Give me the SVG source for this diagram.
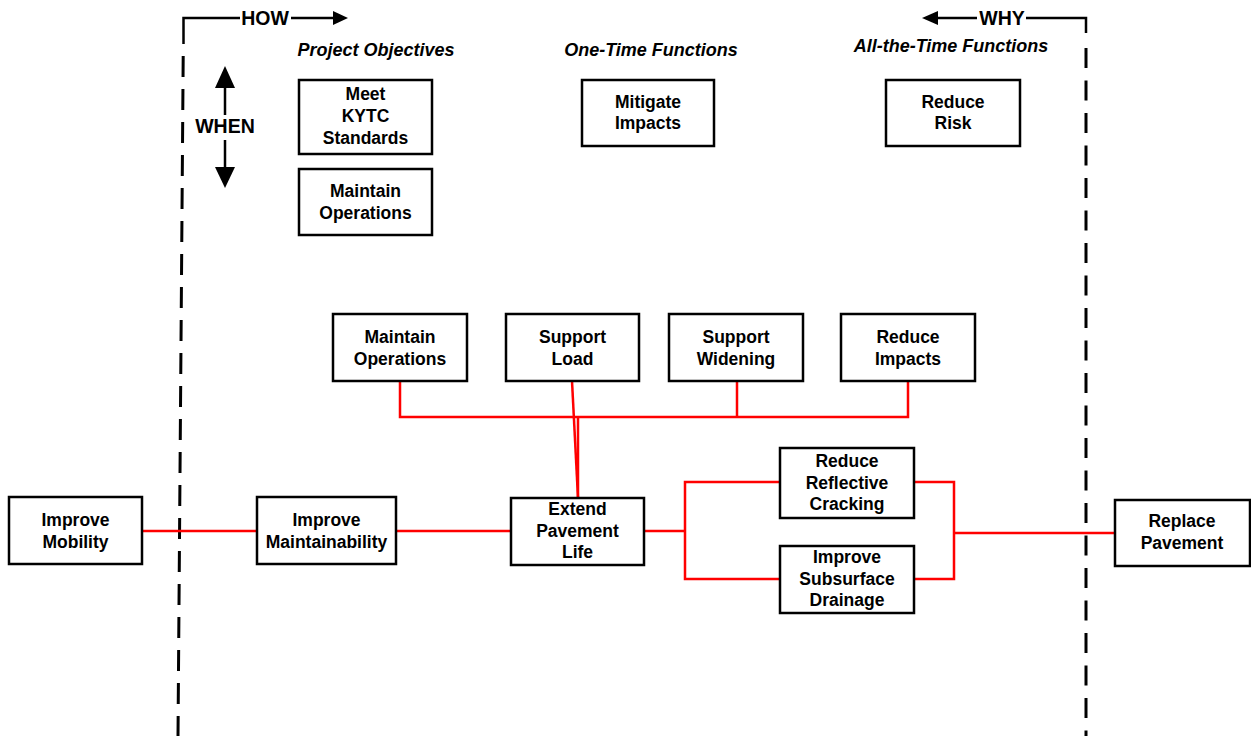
<svg xmlns="http://www.w3.org/2000/svg" width="1251" height="736" viewBox="0 0 1251 736">
<style>
.box{fill:#fff;stroke:#000;stroke-width:2.5}
.t{font-family:"Liberation Sans",Arial,sans-serif;font-weight:bold;font-size:17.5px;fill:#000;text-anchor:middle}
.h{font-family:"Liberation Sans",Arial,sans-serif;font-weight:bold;font-style:italic;font-size:18px;fill:#000;text-anchor:middle}
.lbl{font-family:"Liberation Sans",Arial,sans-serif;font-weight:bold;font-size:19.5px;fill:#000;text-anchor:middle}
.red{fill:none;stroke:#ff0000;stroke-width:2.5}
.blk{fill:none;stroke:#000;stroke-width:2.5}
.dash{fill:none;stroke:#000;stroke-width:3}
</style>
<rect width="1251" height="736" fill="#fff"/>
<g id="frame">
<path class="blk" d="M240,18 H183.5 V44"/>
<path class="dash" d="M183.2,56 L178,736" stroke-dasharray="21 12"/>
<text class="lbl" x="265" y="25">HOW</text>
<line class="blk" x1="291" y1="18" x2="334" y2="18"/>
<polygon points="348,18 333,11 333,25" fill="#000"/>
<path class="blk" d="M1026,18 H1086 V33"/>
<path class="dash" d="M1086,48 V736" stroke-dasharray="20 12.5"/>
<text class="lbl" x="1002" y="25">WHY</text>
<line class="blk" x1="977" y1="18" x2="936" y2="18"/>
<polygon points="922,18 938,11 938,25" fill="#000"/>
<line class="blk" x1="225" y1="86" x2="225" y2="115"/>
<polygon points="225,66 215,88 235,88" fill="#000"/>
<line class="blk" x1="225" y1="140" x2="225" y2="169"/>
<polygon points="225,188 215,167 235,167" fill="#000"/>
<text class="lbl" x="225" y="133">WHEN</text>
<text class="h" x="376" y="56">Project Objectives</text>
<text class="h" x="651" y="56">One-Time Functions</text>
<text class="h" x="951" y="52">All-the-Time Functions</text>
</g>
<g id="connectors">
<line class="red" x1="142" y1="531" x2="257" y2="531"/>
<line class="red" x1="396" y1="531" x2="511" y2="531"/>
<polyline class="red" points="400,381 400,417 908,417 908,381"/>
<line class="red" x1="737" y1="381" x2="737" y2="417"/>
<line class="red" x1="572" y1="381" x2="578" y2="498"/>
<line class="red" x1="578" y1="417" x2="578" y2="498"/>
<line class="red" x1="644" y1="531" x2="685" y2="531"/>
<polyline class="red" points="780,482 685,482 685,579 780,579"/>
<polyline class="red" points="914,482 954,482 954,579 914,579"/>
<line class="red" x1="954" y1="533" x2="1115" y2="533"/>
</g>
<g id="meet-kytc"><rect class="box" x="299" y="80" width="133" height="74"/>
<text class="t" x="365.5" y="100">Meet</text><text class="t" x="365.5" y="122">KYTC</text><text class="t" x="365.5" y="144">Standards</text></g>
<g id="maintain-ops-top"><rect class="box" x="299" y="169" width="133" height="66"/>
<text class="t" x="365.5" y="197">Maintain</text><text class="t" x="365.5" y="219">Operations</text></g>
<g id="mitigate"><rect class="box" x="582" y="80" width="132" height="66"/>
<text class="t" x="648" y="108">Mitigate</text><text class="t" x="648" y="129">Impacts</text></g>
<g id="reduce-risk"><rect class="box" x="886" y="80" width="134" height="66"/>
<text class="t" x="953" y="108">Reduce</text><text class="t" x="953" y="129">Risk</text></g>
<g id="maintain-ops"><rect class="box" x="333" y="314" width="134" height="67"/>
<text class="t" x="400" y="343">Maintain</text><text class="t" x="400" y="365">Operations</text></g>
<g id="support-load"><rect class="box" x="506" y="314" width="133" height="67"/>
<text class="t" x="572.5" y="343">Support</text><text class="t" x="572.5" y="365">Load</text></g>
<g id="support-widening"><rect class="box" x="669" y="314" width="134" height="67"/>
<text class="t" x="736" y="343">Support</text><text class="t" x="736" y="365">Widening</text></g>
<g id="reduce-impacts"><rect class="box" x="841" y="314" width="134" height="67"/>
<text class="t" x="908" y="343">Reduce</text><text class="t" x="908" y="365">Impacts</text></g>
<g id="improve-mobility"><rect class="box" x="9" y="497" width="133" height="67"/>
<text class="t" x="75.5" y="526">Improve</text><text class="t" x="75.5" y="548">Mobility</text></g>
<g id="improve-maintainability"><rect class="box" x="257" y="497" width="139" height="67"/>
<text class="t" x="326.5" y="526">Improve</text><text class="t" x="326.5" y="548">Maintainability</text></g>
<g id="extend-life"><rect class="box" x="511" y="498" width="133" height="67"/>
<text class="t" x="577.5" y="515">Extend</text><text class="t" x="577.5" y="537">Pavement</text><text class="t" x="577.5" y="558">Life</text></g>
<g id="reduce-cracking"><rect class="box" x="780" y="448" width="134" height="70"/>
<text class="t" x="847" y="467">Reduce</text><text class="t" x="847" y="489">Reflective</text><text class="t" x="847" y="510">Cracking</text></g>
<g id="improve-drainage"><rect class="box" x="780" y="546" width="134" height="67"/>
<text class="t" x="847" y="563">Improve</text><text class="t" x="847" y="585">Subsurface</text><text class="t" x="847" y="606">Drainage</text></g>
<g id="replace-pavement"><rect class="box" x="1115" y="500" width="135" height="66"/>
<text class="t" x="1182" y="527">Replace</text><text class="t" x="1182" y="549">Pavement</text></g>
</svg>
